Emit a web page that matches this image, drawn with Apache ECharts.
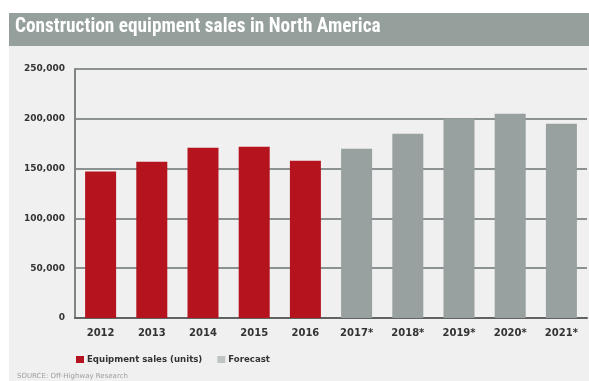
<!DOCTYPE html>
<html>
<head>
<meta charset="utf-8">
<script src="https://cdn.jsdelivr.net/npm/echarts@6/dist/echarts.min.js"></script>
<style>
  html, body { margin: 0; padding: 0; background: #ffffff; }
  #chart { width: 589px; height: 381px; }
</style>
</head>
<body>
<div id="chart"></div>
<script>
// Annual unit sales, actuals and forecast years
const years = ['2012', '2013', '2014', '2015', '2016', '2017*', '2018*', '2019*', '2020*', '2021*'];
const salesUnits = [147000, 157000, 171000, 172000, 158000, '-', '-', '-', '-', '-'];
const forecastUnits = ['-', '-', '-', '-', '-', 170000, 185000, 200000, 205000, 195000];
const yTicks = [0, 50000, 100000, 150000, 200000, 250000];

const chart = echarts.init(document.getElementById('chart'), null, { renderer: 'canvas' });

const narrow = '"Liberation Sans Narrow", "Roboto Condensed", "DejaVu Sans Condensed", Arial, sans-serif';
const wide = '"DejaVu Sans", Arial, sans-serif';

chart.setOption({
  animation: false,
  backgroundColor: '#ffffff',
  graphic: [
    { type: 'rect', z: -100, silent: true,
      shape: { x: 9, y: 46, width: 580, height: 335 },
      style: { fill: '#f0f0f0' } },
    { type: 'rect', z: -100, silent: true,
      shape: { x: 9, y: 13, width: 580, height: 33 },
      style: { fill: '#95a09d' } },
    { type: 'text', left: 15, top: 18, z: 10,
      style: { text: 'Construction equipment sales in North America',
               fill: '#ffffff', font: 'bold 19.3px ' + narrow } },
    { type: 'text', left: 17, top: 373, z: 10,
      style: { text: 'SOURCE: Off-Highway Research',
               fill: '#9a9f9e', font: '7px ' + wide } }
  ],
  grid: { left: 75, right: 2, top: 69, bottom: 63 },
  legend: {
    left: 71, top: 350,
    itemWidth: 8, itemHeight: 7, itemGap: 15,
    icon: 'rect',
    textStyle: { color: '#333333', fontWeight: 'bold', fontSize: 8.6, fontFamily: wide, padding: [0, 0, 0, -2] },
    data: [
      { name: 'Equipment sales (units)' },
      { name: 'Forecast', itemStyle: { color: '#bfc4c3' } }
    ]
  },
  xAxis: {
    type: 'category',
    data: years,
    axisLine: { lineStyle: { color: '#5f6362', width: 2 } },
    axisTick: { show: false },
    axisLabel: { color: '#333333', fontWeight: 'bold', fontSize: 10, fontFamily: wide, margin: 10 }
  },
  yAxis: {
    type: 'value',
    min: yTicks[0],
    max: yTicks[yTicks.length - 1],
    interval: yTicks[1] - yTicks[0],
    axisLine: { show: true, lineStyle: { color: '#7f8584', width: 2 } },
    axisTick: { show: false },
    axisLabel: {
      color: '#333333', fontWeight: 'bold', fontSize: 9, fontFamily: wide, margin: 10,
      formatter: v => v.toLocaleString('en-US')
    },
    splitLine: { lineStyle: { color: '#8c9291', width: 2 } }
  },
  series: [
    { name: 'Equipment sales (units)', type: 'bar', stack: 'units',
      data: salesUnits, barWidth: 31,
      itemStyle: { color: '#b5131e' } },
    { name: 'Forecast', type: 'bar', stack: 'units',
      data: forecastUnits, barWidth: 31,
      itemStyle: { color: '#98a19f' } }
  ]
});
</script>
</body>
</html>
